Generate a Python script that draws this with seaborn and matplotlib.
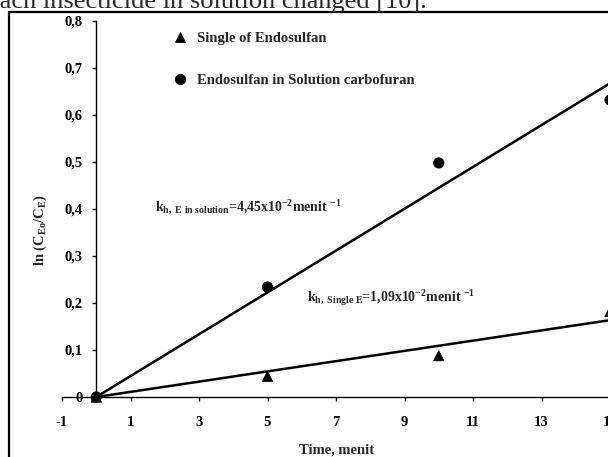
import matplotlib
matplotlib.use("Agg")
import matplotlib.pyplot as plt
import numpy as np
import pandas as pd
import seaborn as sns
from matplotlib.patches import Rectangle

# data
time_min = [0, 5, 10, 15]
single_endosulfan = [0.0, 0.044, 0.088, 0.182]
endosulfan_in_carbofuran = [0.0, 0.234, 0.498, 0.632]
series_names = ["Single of Endosulfan", "Endosulfan in Solution carbofuran"]
k_single = 1.09e-2      # slope of fitted line, single endosulfan
k_solution = 4.45e-2    # slope of fitted line, endosulfan in solution
fit_time = [0, 16]

x_ticks = [-1, 1, 3, 5, 7, 9, 11, 13, 15]
y_ticks = [0, 0.1, 0.2, 0.3, 0.4, 0.5, 0.6, 0.7, 0.8]
y_tick_labels = ["0", "0,1", "0,2", "0,3", "0,4", "0,5", "0,6", "0,7", "0,8"]

points = pd.DataFrame({
    "time": time_min * 2,
    "ln": single_endosulfan + endosulfan_in_carbofuran,
    "series": [series_names[0]] * 4 + [series_names[1]] * 4,
})
fits = pd.DataFrame({
    "time": fit_time * 2,
    "ln": [k_single * t for t in fit_time] + [k_solution * t for t in fit_time],
    "series": [series_names[0]] * 2 + [series_names[1]] * 2,
})

sns.set_theme(style="ticks")
plt.rcParams["font.family"] = ["Liberation Serif", "DejaVu Serif"]
plt.rcParams["font.weight"] = "bold"
plt.rcParams["mathtext.fontset"] = "custom"
plt.rcParams["mathtext.rm"] = "Liberation Serif:bold"
plt.rcParams["mathtext.it"] = "Liberation Serif:bold"
plt.rcParams["mathtext.bf"] = "Liberation Serif:bold"
plt.rcParams["mathtext.default"] = "rm"

fig = plt.figure(figsize=(6.08, 4.57), dpi=100)
ax = fig.add_axes([62 / 608, 60 / 457, 582.25 / 608, 376 / 457])

sns.lineplot(data=fits, x="time", y="ln", units="series", estimator=None,
             color="black", lw=1.8, ax=ax, legend=False)
sns.scatterplot(data=points, x="time", y="ln", style="series", style_order=series_names,
                markers={series_names[0]: "^", series_names[1]: "o"},
                color="black", edgecolor="black", s=55, ax=ax, clip_on=False, zorder=3)

ax.set_xlim(-1, 16)
ax.set_ylim(0, 0.8)
ax.set_xticks(x_ticks)
ax.set_xticklabels([str(t) for t in x_ticks])
ax.set_yticks(y_ticks)
ax.set_yticklabels(y_tick_labels)
sns.despine(ax=ax)
ax.spines["left"].set_position(("data", 0))
for s in ["left", "bottom"]:
    ax.spines[s].set_linewidth(1.0)
    ax.spines[s].set_color("black")
ax.tick_params(axis="both", direction="out", length=3, width=1, colors="black", labelsize=10.5)
ax.tick_params(axis="x", pad=11)
ax.tick_params(axis="y", pad=7)

ax.set_xlabel("Time, menit", fontsize=10.5, fontweight="bold")
ax.xaxis.set_label_coords(0.471, -0.125)
ax.set_ylabel(r"ln (C$_{Eo}$/C$_{E}$)", fontsize=10.5, fontweight="bold", va="center")
ax.yaxis.set_label_coords(-0.038, 0.444)

handles, labels = ax.get_legend_handles_labels()
ax.legend(handles, labels, loc="upper left", bbox_to_anchor=(173 / 608, 1 - 32 / 457),
          bbox_transform=fig.transFigure, frameon=False, labelspacing=1.95,
          handletextpad=0.65, handlelength=1.0, borderpad=0, borderaxespad=0,
          prop={"size": 10.5, "weight": "bold"})

ax.text(1.72, 0.402, r"k$_{h,\ E\ in\ solution}$=4,45x10$^{-2}$menit $^{-1}$",
        fontsize=10, fontweight="bold", ha="left", va="center")
ax.text(6.16, 0.21, r"k$_{h,\ Single\ E}$=1,09x10$^{-2}$menit $^{-1}$",
        fontsize=10, fontweight="bold", ha="left", va="center")

# surrounding page: cropped sentence and frame of the figure box
fig.text(-12 / 608, 1 - 8 / 457, "each insecticide in solution changed [10].",
         fontsize=19, fontweight="normal", ha="left", va="baseline")
fig.add_artist(Rectangle((9 / 608, -0.5), 2, (457 - 12) / 457 + 0.5,
                         transform=fig.transFigure, fill=False, lw=1.6,
                         ec="black", clip_on=False))

fig.savefig("out.png", dpi=100)
